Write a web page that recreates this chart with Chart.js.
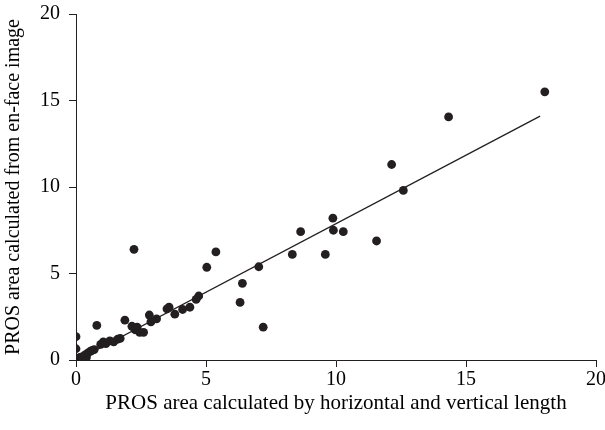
<!DOCTYPE html>
<html>
<head>
<meta charset="utf-8">
<script src="https://cdn.jsdelivr.net/npm/chart.js@4"></script>
<style>
  html, body { margin: 0; padding: 0; background: #fff; }
  #wrap { width: 605px; height: 430px; }
</style>
</head>
<body>
<div id="wrap"><canvas id="chart"></canvas></div>
<script>
'use strict';

const horizVert = [0.0, 0.0, 0.15, 0.25, 0.35, 0.4, 0.45, 0.55, 0.62, 0.7, 0.8, 0.95, 1.05, 1.15, 1.3, 1.45, 1.6, 1.7,
  1.88, 2.15, 2.23, 2.27, 2.35, 2.45, 2.6, 2.82, 2.88, 3.1, 3.5, 3.58, 3.8, 4.1, 4.38, 4.62, 4.72, 5.03, 5.38,
  6.31, 6.4, 7.03, 7.2, 8.32, 8.64, 9.59, 9.88, 9.9, 10.28, 11.56, 12.14, 12.59, 14.33, 18.03];
const enFace = [1.35, 0.65, 0.15, 0.2, 0.3, 0.15, 0.4, 0.5, 0.55, 0.6, 2.0, 0.9, 1.05, 0.95, 1.1, 1.05, 1.2, 1.25,
  2.3, 1.95, 6.4, 1.75, 1.9, 1.6, 1.6, 2.6, 2.2, 2.38, 2.95, 3.05, 2.65, 2.92, 3.05, 3.5, 3.7, 5.36, 6.25,
  3.33, 4.43, 5.39, 1.9, 6.1, 7.42, 6.1, 8.2, 7.5, 7.42, 6.88, 11.3, 9.8, 14.05, 15.5];

// fitted line ends
const fitX = [0.05, 17.85];
const fitY = [0.0, 14.1];

const xTicks = [0, 5, 10, 15, 20];
const yTicks = [0, 5, 10, 15, 20];

const ink = '#231f20';
const serif = "'Liberation Serif', 'DejaVu Serif', serif";

const points = horizVert.map((x, i) => ({ x: x, y: enFace[i] }));
const fitLine = fitX.map((x, i) => ({ x: x, y: fitY[i] }));

function axisOpts(ticks, title, titleSize, titlePad) {
  return {
    type: 'linear',
    min: 0,
    max: 20,
    afterBuildTicks: (scale) => { scale.ticks = ticks.map(v => ({ value: v })); },
    border: { display: true, color: ink, width: 1 },
    grid: { display: true, drawOnChartArea: false, drawTicks: true, tickLength: 7, color: ink, lineWidth: 1 },
    ticks: { color: '#000', font: { family: serif, size: 20 }, padding: 9 },
    title: { display: true, text: title, color: '#000', font: { family: serif, size: titleSize }, padding: titlePad }
  };
}

const xScale = axisOpts(xTicks, 'PROS area calculated by horizontal and vertical length', 21, { top: 0, bottom: 13.5 });
xScale.ticks.padding = 1;
xScale.afterFit = (scale) => {
  scale.height = 70;
  scale.paddingLeft = 0;
  scale.paddingRight = 0;
};

const yScale = axisOpts(yTicks, 'PROS area calculated from en-face image', 20, { top: 2, bottom: 0 });
yScale.afterFit = (scale) => {
  scale.width = 76;
  scale.paddingTop = 0;
  scale.paddingBottom = 0;
};

const config = {
  type: 'scatter',
  data: {
    datasets: [
      {
        label: 'Measurements',
        data: points,
        backgroundColor: ink,
        borderColor: ink,
        pointRadius: 4.4,
        pointHoverRadius: 4.4,
        borderWidth: 0
      },
      {
        type: 'line',
        label: 'Fit',
        data: fitLine,
        showLine: true,
        borderColor: ink,
        borderWidth: 1.3,
        pointRadius: 0,
        fill: false
      }
    ]
  },
  options: {
    responsive: true,
    maintainAspectRatio: false,
    animation: false,
    layout: { padding: { top: 14, right: 9, bottom: 0, left: 0 } },
    plugins: { legend: { display: false }, tooltip: { enabled: false } },
    scales: { x: xScale, y: yScale }
  }
};

new Chart(document.getElementById('chart'), config);
</script>
</body>
</html>
